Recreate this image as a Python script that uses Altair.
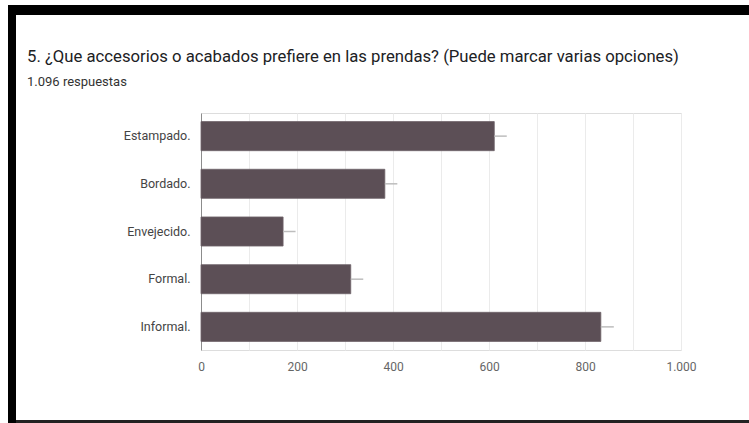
import altair as alt
import pandas as pd

categories = ["Estampado.", "Bordado.", "Envejecido.", "Formal.", "Informal."]
counts = [611, 383, 171, 312, 833]
whisker_end = [637, 409, 197, 338, 860]
x_ticks = [0, 100, 200, 300, 400, 500, 600, 700, 800, 900, 1000]

title_text = "5. ¿Que accesorios o acabados prefiere en las prendas? (Puede marcar varias opciones)"
subtitle_text = "1.096 respuestas"

df = pd.DataFrame({"cat": categories, "n": counts, "hi": whisker_end})

FONT = "Roboto"
W, H = 480, 237

y_enc = alt.Y(
    "cat:N",
    sort=categories,
    title=None,
    scale=alt.Scale(paddingInner=0.39, paddingOuter=0.18),
    axis=alt.Axis(
        domain=True, domainColor="#8c8c8c", domainWidth=1,
        ticks=False, labelPadding=11, labelFontSize=12.5,
        labelColor="#444444", labelFont=FONT, grid=False,
    ),
)

x_enc = alt.X(
    "n:Q",
    title=None,
    scale=alt.Scale(domain=[0, 1000], nice=False),
    axis=alt.Axis(
        values=x_ticks,
        labelExpr="datum.value % 200 == 0 ? replace(format(datum.value, ','), ',', '.') : ''",
        domain=False, ticks=False, grid=True, gridColor="#ebebeb", gridWidth=1,
        labelPadding=11, labelFontSize=12, labelColor="#666666", labelFont=FONT,
        labelFlush=False, labelOverlap=False,
    ),
)

bars = alt.Chart(df).mark_bar(color="#5c4f56", stroke="#6e6369", strokeWidth=0.8).encode(
    x=x_enc, y=y_enc
)

whiskers = alt.Chart(df).mark_rule(color="#bdbdbd", strokeWidth=1.5).encode(
    x="n:Q", x2="hi:Q", y=alt.Y("cat:N", sort=categories)
)

text_df = pd.DataFrame({"title": [title_text], "subtitle": [subtitle_text]})
title_mark = alt.Chart(text_df).mark_text(
    align="left", baseline="alphabetic", font=FONT, fontSize=16.7,
    color="#202124", clip=False,
).encode(text="title:N", x=alt.value(-174), y=alt.value(-51))
subtitle_mark = alt.Chart(text_df).mark_text(
    align="left", baseline="alphabetic", font=FONT, fontSize=13,
    color="#333333", clip=False,
).encode(text="subtitle:N", x=alt.value(-174), y=alt.value(-27))

frame_df = pd.DataFrame({"k": [0]})
left_border = alt.Chart(frame_df).mark_rect(color="black", clip=False).encode(
    x=alt.value(-193), x2=alt.value(-185), y=alt.value(-108), y2=alt.value(310)
)
top_border = alt.Chart(frame_df).mark_rect(color="black", clip=False).encode(
    x=alt.value(-193), x2=alt.value(548), y=alt.value(-108), y2=alt.value(-98)
)
bottom_border = alt.Chart(frame_df).mark_rect(color="#222222", clip=False).encode(
    x=alt.value(-185), x2=alt.value(548), y=alt.value(307), y2=alt.value(310)
)

chart = alt.layer(
    bars, whiskers, title_mark, subtitle_mark, left_border, top_border, bottom_border
).properties(
    width=W,
    height=H,
    padding={"left": 201, "top": 113, "right": 68, "bottom": 73},
    autosize=alt.AutoSizeParams(type="none"),
).configure_view(stroke="#ebebeb", strokeWidth=1).configure(background="white")

chart.save("out.html", embed_options={"renderer": "svg", "actions": False})
